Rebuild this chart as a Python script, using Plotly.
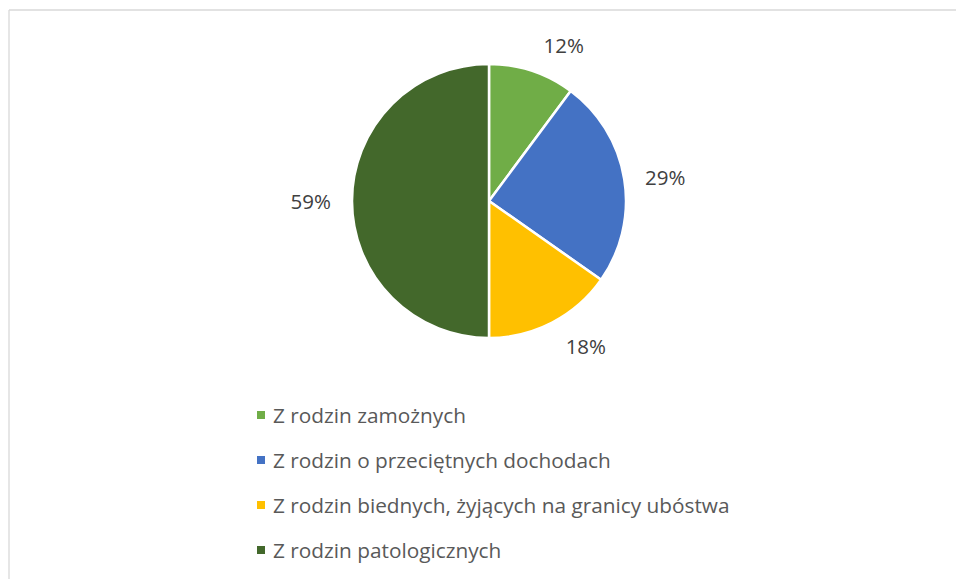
import plotly.graph_objects as go

categories = [
    "Z rodzin zamożnych",
    "Z rodzin o przeciętnych dochodach",
    "Z rodzin biednych, żyjących na granicy ubóstwa",
    "Z rodzin patologicznych",
]
values = [12, 29, 18, 59]
value_labels = ["12%", "29%", "18%", "59%"]
colors = ["#70AD47", "#4472C4", "#FFC000", "#43682B"]

W, H = 956, 579
cx, cy, r = 489, 201, 137
r_lab = 151  # radius of the invisible pie that carries the outside labels


def dom(rad):
    return dict(x=[(cx - rad) / W, (cx + rad) / W], y=[(H - cy - rad) / H, (H - cy + rad) / H])


fig = go.Figure()
# invisible, slightly larger pie: only its outside labels are shown
fig.add_trace(go.Pie(
    labels=categories,
    values=values,
    text=value_labels,
    textinfo="text",
    textposition="outside",
    sort=False,
    direction="clockwise",
    rotation=0,
    marker=dict(colors=["rgba(0,0,0,0)"] * len(values), line=dict(width=0)),
    outsidetextfont=dict(family="Open Sans", size=20.5, color="#404040"),
    domain=dom(r_lab),
    showlegend=False,
    hoverinfo="skip",
))
fig.add_trace(go.Pie(
    labels=categories,
    values=values,
    textinfo="none",
    sort=False,
    direction="clockwise",
    rotation=0,
    marker=dict(colors=colors, line=dict(color="white", width=2.5)),
    domain=dom(r),
    showlegend=False,
    hoverinfo="label+value",
))

shapes = [
    dict(type="line", xref="paper", yref="paper", x0=9 / W, x1=1.01,
         y0=1 - 10 / H, y1=1 - 10 / H,
         line=dict(color="#D9D9D9", width=1.3)),
    dict(type="line", xref="paper", yref="paper", x0=9 / W, x1=9 / W,
         y0=1 - 10 / H, y1=-0.01,
         line=dict(color="#D9D9D9", width=1.3)),
]
annotations = []
legend_y = [415, 460, 505, 550]
for cat, col, ly in zip(categories, colors, legend_y):
    shapes.append(dict(type="rect", xref="paper", yref="paper",
                       x0=257 / W, x1=265 / W, y0=1 - (ly - 4) / H, y1=1 - (ly + 4) / H,
                       fillcolor=col, line=dict(width=0)))
    annotations.append(dict(text=cat, xref="paper", yref="paper", x=271 / W, y=1 - ly / H,
                            xanchor="left", yanchor="middle", showarrow=False,
                            font=dict(family="Open Sans", size=20.8, color="#595959")))

fig.update_layout(
    width=W, height=H,
    margin=dict(l=0, r=0, t=0, b=0),
    paper_bgcolor="white",
    plot_bgcolor="white",
    shapes=shapes,
    annotations=annotations,
)

fig.write_html(
    "out.html",
    config={"displayModeBar": False},
    post_script="document.body.style.margin='0';document.body.style.overflow='hidden';",
)
